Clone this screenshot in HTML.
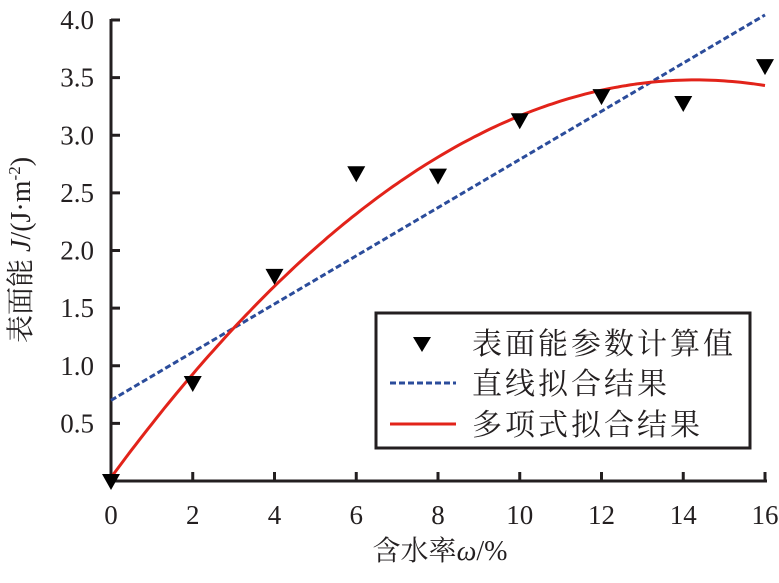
<!DOCTYPE html>
<html><head><meta charset="utf-8"><style>
html,body{margin:0;padding:0;background:#fff;}
svg{display:block;}
text{font-family:"Liberation Serif","Noto Serif CJK SC","Noto Sans CJK SC",serif;fill:#231f20;}
</style></head><body>
<svg id="chart" width="779" height="583" viewBox="0 0 779 583" xmlns="http://www.w3.org/2000/svg">
<g id="axes"></g>
<g id="series"></g>
<g>
  <rect x="376" y="313" width="374" height="135" fill="#fff" stroke="#231f20" stroke-width="3"/>
  <path d="M413,337 L431,337 L422,352 Z" fill="#000"/>
  <text x="472" y="354" font-size="30" letter-spacing="3">表面能参数计算值</text>
  <line x1="390" y1="383" x2="456" y2="383" stroke="#2b4c9b" stroke-width="3" stroke-dasharray="6,3"/>
  <text x="472" y="394" font-size="30" letter-spacing="3">直线拟合结果</text>
  <line x1="390" y1="424" x2="456" y2="424" stroke="#e2231a" stroke-width="3"/>
  <text x="472" y="435" font-size="30" letter-spacing="3">多项式拟合结果</text>
</g>
<text x="440" y="560" font-size="28" text-anchor="middle">含水率<tspan font-style="italic">ω</tspan>/%</text>
<text transform="translate(30,250) rotate(-90)" font-size="28" text-anchor="middle">表面能 <tspan font-style="italic">J</tspan>/(J·m<tspan font-size="17" dy="-10">-2</tspan><tspan dy="10">)</tspan></text>
</svg>
<script>
const xValues = [0, 2, 4, 6, 8, 10, 12, 14, 16];
const yValues = [0, 0.85, 1.78, 2.67, 2.65, 3.13, 3.34, 3.28, 3.6];
const xTicks = [0, 2, 4, 6, 8, 10, 12, 14, 16];
const yTicks = [0.5, 1.0, 1.5, 2.0, 2.5, 3.0, 3.5, 4.0];
const yTickLabels = ["0.5", "1.0", "1.5", "2.0", "2.5", "3.0", "3.5", "4.0"];
const linearCoef = [0.70, 0.209];
const polyCoef = [0.03, 0.4825, -0.01687];

const NS = "http://www.w3.org/2000/svg";
const X0 = 111, X1 = 765, Y0 = 481, Y1 = 20;
const sx = v => X0 + (v - 0) / 16 * (X1 - X0);
const sy = v => Y0 - v / 4 * (Y0 - Y1);
function mk(tag, attrs, parent) {
  const e = document.createElementNS(NS, tag);
  for (const k in attrs) e.setAttribute(k, attrs[k]);
  parent.appendChild(e); return e;
}
const axes = document.getElementById("axes");
const series = document.getElementById("series");
let el = mk("line", {x1: X0, y1: Y0, x2: X1 + 2, y2: Y0, stroke: "#231f20", "stroke-width": 3}, axes);


el = mk("line", {x1: X0, y1: Y0 + 1, x2: X0, y2: Y1 - 1, stroke: "#231f20", "stroke-width": 3}, axes);


xTicks.forEach(t => {
  const x = sx(t);
  if (t > 0) {
    const tk = mk("line", {x1: x, y1: Y0, x2: x, y2: Y0 - 9, stroke: "#231f20", "stroke-width": 3}, axes);
    
    
  }
  const lb = mk("text", {x: x, y: Y0 + 43, "font-size": 27, "text-anchor": "middle"}, axes);
  lb.textContent = String(t);
  
  
});
yTicks.forEach((t, i) => {
  const y = sy(t);
  const tk = mk("line", {x1: X0, y1: y, x2: X0 + 9, y2: y, stroke: "#231f20", "stroke-width": 3}, axes);
  
  
  const lb = mk("text", {x: 94, y: y + 9, "font-size": 27, "text-anchor": "end"}, axes);
  lb.textContent = yTickLabels[i];
  
  
});
// linear fit
el = mk("line", {x1: sx(0), y1: sy(linearCoef[0]), x2: sx(16), y2: sy(linearCoef[0] + linearCoef[1] * 16), stroke: "#2b4c9b", "stroke-width": 3, "stroke-dasharray": "6,3"}, series);


// polynomial fit
let d = "";
for (let i = 0; i <= 160; i++) {
  const x = i / 10;
  const y = polyCoef[0] + polyCoef[1] * x + polyCoef[2] * x * x;
  d += (i ? "L" : "M") + sx(x).toFixed(1) + "," + sy(y).toFixed(1);
}
el = mk("path", {d: d, fill: "none", stroke: "#e2231a", "stroke-width": 3}, series);


// points
xValues.forEach((xv, i) => {
  const x = sx(xv), y = sy(yValues[i]);
  const p = mk("path", {d: `M${x - 9},${y - 7} L${x + 9},${y - 7} L${x},${y + 9} Z`, fill: "#000"}, series);
  
  
});
</script>
</body></html>
